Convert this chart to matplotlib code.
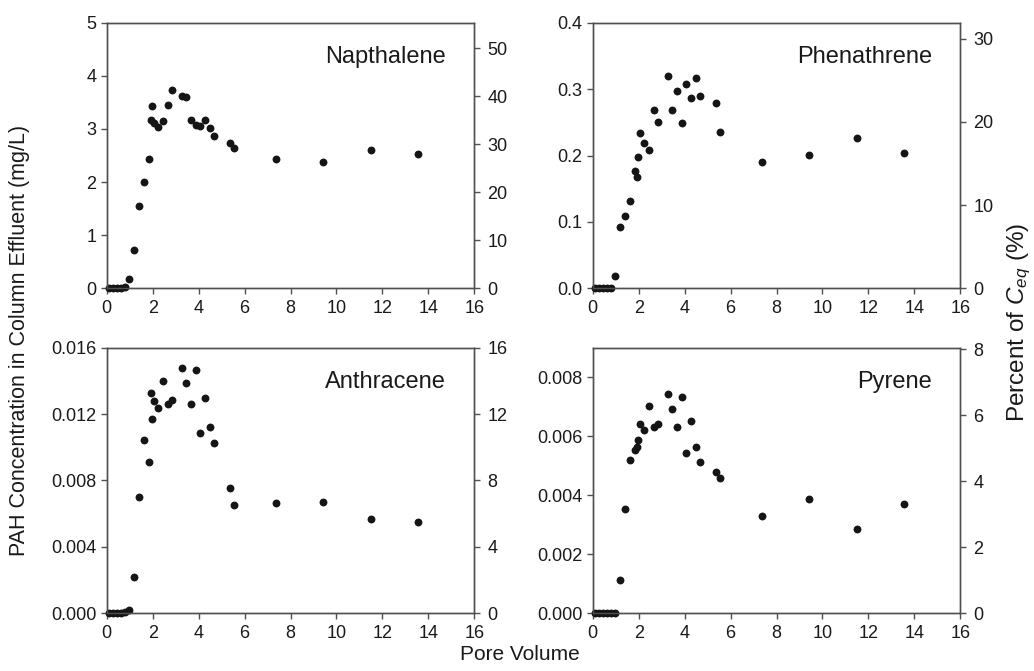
import matplotlib
matplotlib.use("Agg")
import matplotlib.pyplot as plt
import numpy as np

plt.rcParams['font.family'] = ['Liberation Sans', 'DejaVu Sans']
plt.rcParams['mathtext.fontset'] = 'custom'
plt.rcParams['mathtext.rm'] = 'Liberation Sans'
plt.rcParams['mathtext.it'] = 'Liberation Sans:italic'

# pore volumes sampled (shared by all four compounds)
pore_volume = [0.12, 0.28, 0.45, 0.62, 0.80, 0.99, 1.19, 1.40, 1.63, 1.84, 1.93, 1.97,
               2.05, 2.25, 2.46, 2.66, 2.86, 3.26, 3.47, 3.67, 3.88, 4.08, 4.28, 4.49,
               4.69, 5.38, 5.52, 7.38, 9.43, 11.49, 13.55]

napthalene = [0, 0, 0, 0.01, 0.03, 0.18, 0.72, 1.54, 2.00, 2.43, 3.16, 3.44,
              3.12, 3.04, 3.15, 3.45, 3.74, 3.62, 3.60, 3.17, 3.07, 3.05, 3.17, 3.02,
              2.87, 2.73, 2.65, 2.44, 2.37, 2.61, 2.53]

phenathrene = [0, 0, 0, 0, 0, 0.019, 0.093, 0.109, 0.131, 0.176, 0.167, 0.198,
               0.234, 0.219, 0.209, 0.269, 0.251, 0.319, 0.269, 0.297, 0.249, 0.307, 0.286, 0.317,
               0.289, 0.279, 0.235, 0.190, 0.201, 0.227, 0.204]

anthracene = [0.00003, 0.00003, 0.00003, 0.00003, 0.00005, 0.00018, 0.00219, 0.00703, 0.01044,
              0.00910, 0.01329, 0.01169, 0.01279, 0.01239, 0.01400, 0.01263, 0.01285, 0.01478,
              0.01388, 0.01263, 0.01464, 0.01084, 0.01299, 0.01122, 0.01024, 0.00753, 0.00653,
              0.00667, 0.00673, 0.00568, 0.00548]

pyrene = [0, 0, 0, 0, 0, 0, 0.00112, 0.00352, 0.00521, 0.00555, 0.00562, 0.00588,
          0.00643, 0.00622, 0.00702, 0.00632, 0.00643, 0.00742, 0.00692, 0.00632, 0.00733,
          0.00542, 0.00652, 0.00562, 0.00512, 0.00479, 0.00457, 0.00331, 0.00387, 0.00286,
          0.00372]

names = ['Napthalene', 'Phenathrene', 'Anthracene', 'Pyrene']
series = [napthalene, phenathrene, anthracene, pyrene]
left_ticks = [[0, 1, 2, 3, 4, 5],
              [0.0, 0.1, 0.2, 0.3, 0.4],
              [0.000, 0.004, 0.008, 0.012, 0.016],
              [0.000, 0.002, 0.004, 0.006, 0.008]]
left_fmt = ['{:.0f}', '{:.1f}', '{:.3f}', '{:.3f}']
left_top = [5, 0.4, 0.016, 0.009]
right_ticks = [[0, 10, 20, 30, 40, 50], [0, 10, 20, 30], [0, 4, 8, 12, 16], [0, 2, 4, 6, 8]]
right_top = [55.3, 31.9, 16, 8.05]

W, H = 1034, 671
fig = plt.figure(figsize=(W / 100, H / 100), dpi=100)

spine_c = '#505050'
text_c = '#1a1a1a'
boxes = [(106.7, 22.7), (592.7, 22.7), (106.7, 347.7), (592.7, 347.7)]
bw, bh = 367.6, 265.6

for i in range(4):
    x0, y0 = boxes[i]
    ax = fig.add_axes([x0 / W, 1 - (y0 + bh) / H, bw / W, bh / H])
    ax.scatter(pore_volume, series[i], s=32, color='#151515', zorder=3, clip_on=False,
               linewidths=0)
    ax.set_xlim(0, 16)
    ax.set_ylim(0, left_top[i])
    ax.set_xticks(np.arange(0, 17, 2))
    ax.set_yticks(left_ticks[i])
    ax.set_yticklabels([left_fmt[i].format(v) for v in left_ticks[i]])
    ax.tick_params(direction='out', length=4.5, width=1, color=spine_c,
                   labelsize=13, labelcolor=text_c, pad=3)
    ax.tick_params(axis='x', pad=4)
    for sp in ax.spines.values():
        sp.set_color(spine_c)
        sp.set_linewidth(1)
    ax.text(1 - 28 / bw, 1 - 40 / bh, names[i], transform=ax.transAxes,
            ha='right', va='baseline', fontsize=17, color=text_c)

    ax2 = ax.twinx()
    ax2.set_ylim(0, right_top[i])
    ax2.set_yticks(right_ticks[i])
    ax2.tick_params(direction='out', length=4.5, width=1, color=spine_c,
                    labelsize=13, labelcolor=text_c, pad=5)
    for sp in ax2.spines.values():
        sp.set_color(spine_c)
        sp.set_linewidth(1)

fig.text(20 / W, 1 - 340 / H, 'PAH Concentration in Column Effluent (mg/L)', rotation=90,
         ha='center', va='center', fontsize=15.5, color=text_c)
fig.text(1019 / W, 1 - 322 / H, 'Percent of $\\mathit{C}_{\\mathit{eq}}$ (%)', rotation=90,
         ha='center', va='center', fontsize=17.5, color=text_c)
fig.text(520 / W, 1 - 655 / H, 'Pore Volume', ha='center', va='center',
         fontsize=15, color=text_c)

fig.savefig('out.png', dpi=100)
